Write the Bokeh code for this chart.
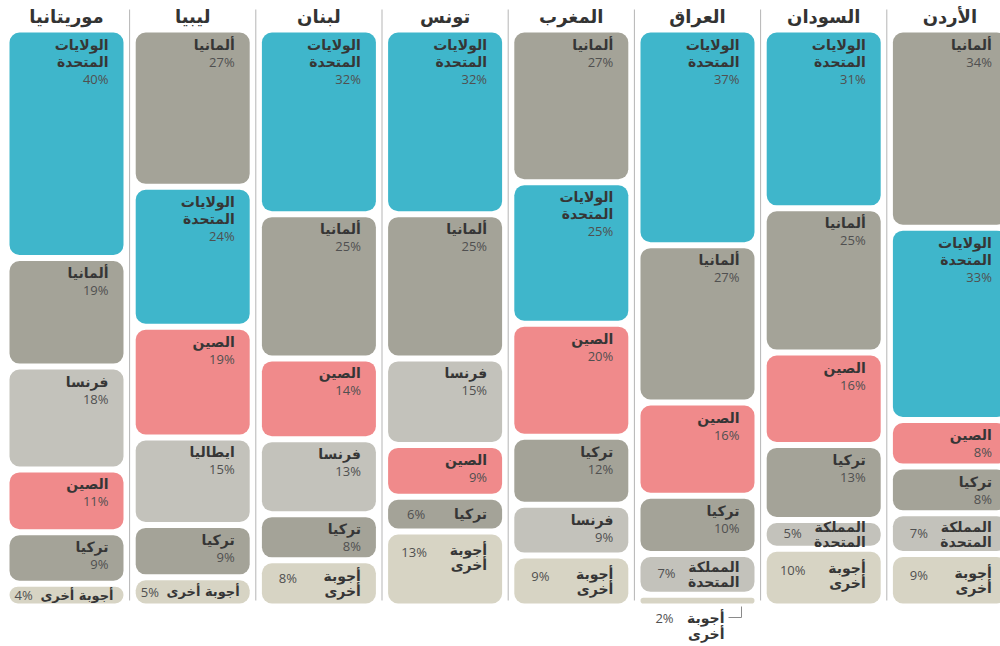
from bokeh.plotting import figure
from bokeh.models import Range1d, ColumnDataSource
from bokeh.embed import file_html
from bokeh.resources import INLINE
from bokeh.core.properties import value

# ---------------- data ----------------
countries = ["موريتانيا", "ليبيا", "لبنان", "تونس", "المغرب", "العراق", "السودان", "الأردن"]

US = "الولايات المتحدة"
DE = "ألمانيا"
CN = "الصين"
TR = "تركيا"
UK = "المملكة المتحدة"
FR = "فرنسا"
IT = "ايطاليا"
OT = "أجوبة أخرى"

mauritania_labels = [US, DE, FR, CN, TR, OT]
mauritania_values = [40, 19, 18, 11, 9, 4]
libya_labels = [DE, US, CN, IT, TR, OT]
libya_values = [27, 24, 19, 15, 9, 5]
lebanon_labels = [US, DE, CN, FR, TR, OT]
lebanon_values = [32, 25, 14, 13, 8, 8]
tunisia_labels = [US, DE, FR, CN, TR, OT]
tunisia_values = [32, 25, 15, 9, 6, 13]
morocco_labels = [DE, US, CN, TR, FR, OT]
morocco_values = [27, 25, 20, 12, 9, 9]
iraq_labels = [US, DE, CN, TR, UK, OT]
iraq_values = [37, 27, 16, 10, 7, 2]
sudan_labels = [US, DE, CN, TR, UK, OT]
sudan_values = [31, 25, 16, 13, 5, 10]
jordan_labels = [DE, US, CN, TR, UK, OT]
jordan_values = [34, 33, 8, 8, 7, 9]

column_labels = [mauritania_labels, libya_labels, lebanon_labels, tunisia_labels,
                 morocco_labels, iraq_labels, sudan_labels, jordan_labels]
column_values = [mauritania_values, libya_values, lebanon_values, tunisia_values,
                 morocco_values, iraq_values, sudan_values, jordan_values]

# ---------------- style ----------------
colors = {US: "#3fb6cb", DE: "#a4a398", TR: "#a4a398", CN: "#f08a8b",
          FR: "#c3c2bb", IT: "#c3c2bb", UK: "#c3c2bb", OT: "#d7d4c4"}
wrapped = {US: ["الولايات", "المتحدة"], UK: ["المملكة", "المتحدة"], OT: ["أجوبة", "أخرى"]}

AR_FONT = value("DejaVu Sans")
NUM_FONT = value("Open Sans")
NAME_COLOR = "#363636"
PCT_COLOR = "#505050"

W, H = 1000, 646
PX_X = 126.2   # px per column
PX_Y = 5.77    # px per percent
X0 = 66        # px from frame left to first column centre
Y0 = 29        # px from frame top to 0 %


def dx(px):
    return px / PX_X


def dy(px):
    return px / PX_Y


p = figure(width=W, height=H, output_backend="svg", toolbar_location=None,
           x_range=Range1d(-dx(X0), dx(W - X0)),
           y_range=Range1d(dy(H - Y0), -dy(Y0)),
           min_border=0)
p.axis.visible = False
p.grid.visible = False
p.outline_line_color = None
p.background_fill_color = "white"

# separators
sep_x = [i + 0.5 for i in range(len(countries) - 1)]
p.segment(x0=sep_x, x1=sep_x, y0=[-dy(20)] * len(sep_x), y1=[dy(571)] * len(sep_x),
          line_color="#b5b5b5", line_width=1)

# titles
p.text(x=list(range(len(countries))), y=[-dy(13)] * len(countries), text=countries,
       text_font=AR_FONT, text_font_style="bold", text_font_size="18px",
       text_color="#333333", text_align="center", text_baseline="middle")

boxes = dict(left=[], right=[], top=[], bottom=[], color=[])
names = dict(x=[], y=[], text=[], size=[])
pcts = dict(x=[], y=[], text=[], align=[])
leader_xs, leader_ys = [], []


def add_name(x, y, t, size="14px"):
    names["x"].append(x)
    names["y"].append(y)
    names["text"].append(t)
    names["size"].append(size)


def add_pct(x, y, t, align):
    pcts["x"].append(x)
    pcts["y"].append(y)
    pcts["text"].append(t)
    pcts["align"].append(align)


HALF = 57
for i, (labs, vals) in enumerate(zip(column_labels, column_values)):
    total = sum(vals)
    cum = 0.0
    for lab, v in zip(labs, vals):
        share = v / total * 100
        left, right = i - dx(HALF), i + dx(HALF)
        top, bottom = cum + dy(3), cum + share - dy(3)
        boxes["left"].append(left)
        boxes["right"].append(right)
        boxes["top"].append(top)
        boxes["bottom"].append(bottom)
        boxes["color"].append(colors[lab])
        h = (bottom - top) * PX_Y
        pct = f"{v}%"
        rx = right - dx(15)
        if h < 10:
            # label outside, below the box, with a leader
            for k, ln in enumerate(wrapped.get(lab, [lab])):
                add_name(right - dx(30), bottom + dy(14 + 16 * k), ln)
            add_pct(left + dx(24), bottom + dy(14), pct, "center")
            leader_xs.append([right - dx(13), right - dx(13), right - dx(26)])
            leader_ys.append([bottom + dy(3), bottom + dy(14), bottom + dy(14)])
        elif lab in (UK, OT) or h < 32:
            if lab == UK or (lab == OT and h >= 25):
                lines = wrapped[lab]
            else:
                lines = [lab]
            if len(lines) == 1:
                first = h / 2
                if lab == OT:
                    add_name(right - dx(10), top + dy(first), lines[0], "13px")
                    add_pct(left + dx(5), top + dy(first), pct, "left")
                else:
                    add_name(rx, top + dy(first), lines[0])
                    add_pct(left + dx(28), top + dy(first), pct, "center")
            else:
                first = min(h / 2 - 7, 16)
                for k, ln in enumerate(lines):
                    add_name(rx, top + dy(first + 15 * k), ln)
                add_pct(left + dx(26), top + dy(first + (6 if h < 36 else 2)), pct, "center")
        else:
            lines = wrapped.get(lab, [lab]) if lab == US else [lab]
            for k, ln in enumerate(lines):
                add_name(rx, top + dy(12 + 17 * k), ln)
            add_pct(rx, top + dy(12 + 17 * len(lines)), pct, "right")
        cum += share

p.quad(source=ColumnDataSource(boxes), left="left", right="right", top="top",
       bottom="bottom", fill_color="color", line_color=None, border_radius=10)

p.text(source=ColumnDataSource(names), x="x", y="y", text="text",
       text_font=AR_FONT, text_font_style="bold", text_font_size="size",
       text_color=NAME_COLOR, text_align="right", text_baseline="middle")

p.text(source=ColumnDataSource(pcts), x="x", y="y", text="text",
       text_font=NUM_FONT, text_font_size="13px", text_color=PCT_COLOR,
       text_align="align", text_baseline="middle")

p.multi_line(xs=leader_xs, ys=leader_ys, line_color="#8a8a8a", line_width=1)

open("out.html", "w").write(file_html(p, INLINE))
